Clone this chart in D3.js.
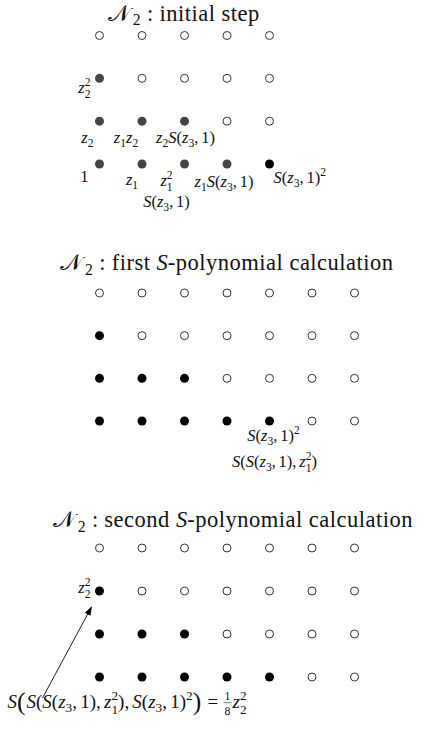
<!DOCTYPE html>
<html>
<head>
<meta charset="utf-8">
<script src="https://cdn.jsdelivr.net/npm/d3@7"></script>
<style>
  body { margin: 0; background: #fff; }
  svg text { white-space: pre; }
</style>
</head>
<body>
<div id="chart"></div>
<script>
// grid sizes (columns x rows) of each panel
var panelCols = [5, 7, 7];
var panelRows = [4, 4, 4];

// panel titles, written in a tiny TeX-like markup
var panelTitles = [
    "$\\N_2:$ initial step",
    "$\\N_2:$ first $S$-polynomial calculation",
    "$\\N_2:$ second $S$-polynomial calculation"
];

// filled lattice points [column, row]
var panel1Filled = [[0, 0], [1, 0], [2, 0], [3, 0], [0, 1], [1, 1], [2, 1], [0, 2]];
var panel1New = [[4, 0]];
var panel2Filled = [[0, 0], [1, 0], [2, 0], [3, 0], [4, 0], [0, 1], [1, 1], [2, 1], [0, 2]];
var panel3Filled = [[0, 0], [1, 0], [2, 0], [3, 0], [4, 0], [0, 1], [1, 1], [2, 1], [0, 2]];

// labels of points
var panel1Labels = [
    { cell: [0, 2], tex: "$z_2^2$" },
    { cell: [0, 1], tex: "$z_2$" },
    { cell: [1, 1], tex: "$z_1z_2$" },
    { cell: [2, 1], tex: "$z_2S(z_3,1)$" },
    { cell: [0, 0], tex: "$1$" },
    { cell: [1, 0], tex: "$z_1$" },
    { cell: [2, 0], tex: "$z_1^2$" },
    { cell: [3, 0], tex: "$z_1S(z_3,1)$" },
    { cell: [4, 0], tex: "$S(z_3,1)^2$" },
    { cell: [2, 0], tex: "$S(z_3,1)$" }
];
var panel2Labels = [
    { cell: [4, 0], tex: "$S(z_3,1)^2$" },
    { cell: [4, 0], tex: "$S(S(z_3,1),z_1^2)$" }
];
var panel3Labels = [
    { cell: [0, 2], tex: "$z_2^2$" }
];
var panel3Result = "$S\\bigl(S(S(z_3,1),z_1^2),S(z_3,1)^2\\bigr)=\\frac18z_2^2$";

// ---- layout ----
var svgWidth = 427, svgHeight = 733;
var fontFamily = "'Liberation Serif', 'DejaVu Serif', serif";
var titleSize = 22.5;
var titleSpacing = 0.5;
var labelSize = 16.5;
var resultSize = 19;

var svg = d3.select("#chart").append("svg")
    .attr("width", svgWidth)
    .attr("height", svgHeight)
    .style("background", "#fff");

var x = d3.scaleLinear().domain([0, 6]).range([99.5, 354.5]);
var yScales = [
    d3.scaleLinear().domain([0, 3]).range([164, 35.5]),
    d3.scaleLinear().domain([0, 3]).range([421, 293]),
    d3.scaleLinear().domain([0, 3]).range([677, 548])
];
var titleY = [20.5, 270, 527];
var titleX = [184, 227, 233];

// parse the TeX-like markup into a list of pieces
function parseTex(src) {
    var items = [], math = false, i = 0;
    while (i < src.length) {
        var c = src[i];
        if (c === "$") { math = !math; i++; continue; }
        if (c === "\\") {
            var j = i + 1;
            while (j < src.length && /[a-zA-Z]/.test(src[j])) j++;
            var cmd = src.slice(i + 1, j);
            i = j;
            if (cmd === "N") items.push({ t: "\u{1D4A9}", math: true, cal: true });
            else if (cmd === "bigl" || cmd === "bigr") { items.push({ t: src[i], big: true, math: true }); i++; }
            else if (cmd === "frac") { items.push({ frac: [src[i], src[i + 1]], math: true }); i += 2; }
            continue;
        }
        if (c === "_" || c === "^") {
            var grp;
            if (src[i + 1] === "{") {
                var k = src.indexOf("}", i);
                grp = src.slice(i + 2, k);
                i = k + 1;
            } else { grp = src[i + 1]; i += 2; }
            items[items.length - 1][c === "_" ? "sub" : "sup"] = grp;
            continue;
        }
        if (math) {
            if (c !== " ") {
                items.push({
                    t: c,
                    math: true,
                    italic: /[a-zA-Z]/.test(c),
                    space: c === "," ? "thin" : (c === "=" || c === ":") ? "rel" : null
                });
            }
            i++;
        } else {
            var e = i;
            while (e < src.length && src[e] !== "$") e++;
            items.push({ t: src.slice(i, e) });
            i = e;
        }
    }
    return items;
}

function addText(g, str, px, py, size, italic, spacing) {
    var t = g.append("text")
        .attr("x", px)
        .attr("y", py)
        .attr("font-family", fontFamily)
        .attr("font-size", size)
        .attr("font-style", italic ? "italic" : "normal")
        .attr("letter-spacing", spacing || 0)
        .attr("fill", "#111")
        .text(str);
    return t.node().getComputedTextLength();
}

// draw a markup string; anchor: start | middle | end
function drawTex(parent, src, px, py, size, anchor, spacing) {
    var g = parent.append("g");
    var items = parseTex(src);
    var cx = 0;
    var rel = size * 0.28, thin = size * 0.17;
    items.forEach(function (it, idx) {
        var next = items[idx + 1];
        if (it.space === "rel") cx += rel;
        if (it.frac) {
            var fs = size * 0.62;
            var wn = addText(g, it.frac[0], cx + 1, -size * 0.42, fs, false);
            var wd = addText(g, it.frac[1], cx + 1, size * 0.38, fs, false);
            var w = Math.max(wn, wd) + 2;
            g.append("line")
                .attr("x1", cx).attr("x2", cx + w)
                .attr("y1", -size * 0.28).attr("y2", -size * 0.28)
                .attr("stroke", "#111").attr("stroke-width", 0.6);
            cx += w + 1;
            return;
        }
        var bs = it.big ? size * 1.35 : size;
        var by = it.big ? size * 0.12 : 0;
        cx += addText(g, it.t, cx, by, bs, it.italic, it.math ? 0 : spacing);
        if (it.big) cx += size * 0.05;
        if (it.cal) cx += size * 0.12;
        var ss = size * 0.7, sw = 0;
        var both = it.sub && it.sup;
        if (it.sub) sw = addText(g, it.sub, cx, size * (both ? 0.3 : 0.22), ss, false);
        if (it.sup) sw = Math.max(sw, addText(g, it.sup, cx, -size * (both ? 0.42 : 0.4), ss, false));
        cx += sw;
        if (it.space === "rel" && next && next.math) cx += rel;
        if (it.space === "thin") cx += thin;
    });
    var shift = anchor === "end" ? -cx : anchor === "middle" ? -cx / 2 : 0;
    g.attr("transform", "translate(" + (px + shift) + "," + py + ")");
    return g;
}

// lattice of one panel
function drawGrid(p, filled, fillColor, extra) {
    var y = yScales[p];
    var pts = [];
    d3.range(panelRows[p]).forEach(function (r) {
        d3.range(panelCols[p]).forEach(function (c) { pts.push([c, r]); });
    });
    var key = function (d) { return d[0] + "," + d[1]; };
    var filledSet = new Set(filled.map(key));
    var extraSet = new Set((extra || []).map(key));
    var isOn = function (d) { return filledSet.has(key(d)) || extraSet.has(key(d)); };

    var g = svg.append("g").attr("class", "panel" + (p + 1));
    g.selectAll("circle")
        .data(pts)
        .enter()
        .append("circle")
        .attr("cx", function (d) { return x(d[0]); })
        .attr("cy", function (d) { return y(d[1]); })
        .attr("r", function (d) { return isOn(d) ? 4.5 : 4; })
        .attr("fill", function (d) {
            if (extraSet.has(key(d))) return "#000";
            return filledSet.has(key(d)) ? fillColor : "#fff";
        })
        .attr("stroke", function (d) { return isOn(d) ? "none" : "#333"; })
        .attr("stroke-width", 1);
    return g;
}

// titles
panelTitles.forEach(function (t, p) {
    drawTex(svg, t, titleX[p], titleY[p], titleSize, "middle", titleSpacing);
});

// panel 1
var g1 = drawGrid(0, panel1Filled, "#444", panel1New);
var place1 = [
    ["end", -9, 15], ["end", -6, 22], ["middle", -16, 22], ["middle", 1, 22],
    ["end", -11, 18], ["middle", -10, 21], ["middle", -18, 22], ["middle", -3, 23],
    ["start", 4, 19], ["middle", -18, 43]
];
panel1Labels.forEach(function (l, i) {
    var pl = place1[i];
    drawTex(g1, l.tex, x(l.cell[0]) + pl[1], yScales[0](l.cell[1]) + pl[2], labelSize, pl[0]);
});

// panel 2
var g2 = drawGrid(1, panel2Filled, "#000");
var place2 = [["middle", 4, 20], ["middle", 5, 46]];
panel2Labels.forEach(function (l, i) {
    var pl = place2[i];
    drawTex(g2, l.tex, x(l.cell[0]) + pl[1], yScales[1](l.cell[1]) + pl[2], labelSize, pl[0]);
});

// panel 3
var g3 = drawGrid(2, panel3Filled, "#000");
var place3 = [["end", -9, 2]];
panel3Labels.forEach(function (l, i) {
    var pl = place3[i];
    drawTex(g3, l.tex, x(l.cell[0]) + pl[1], yScales[2](l.cell[1]) + pl[2], labelSize, pl[0]);
});
drawTex(g3, panel3Result, x(0) - 92, yScales[2](0) + 31, resultSize, "start");

// arrow from the result to z2^2
svg.append("defs").append("marker")
    .attr("id", "arrowhead")
    .attr("viewBox", "0 0 10 10")
    .attr("refX", 9).attr("refY", 5)
    .attr("markerWidth", 9).attr("markerHeight", 9)
    .attr("markerUnits", "userSpaceOnUse")
    .attr("orient", "auto")
    .append("path")
    .attr("d", "M0,1.5L10,5L0,8.5Z")
    .attr("fill", "#000");

g3.append("line")
    .attr("x1", x(0) - 57).attr("y1", yScales[2](0) + 21)
    .attr("x2", x(0) - 8).attr("y2", yScales[2](2) + 16)
    .attr("stroke", "#000")
    .attr("stroke-width", 0.9)
    .attr("marker-end", "url(#arrowhead)");
</script>
</body>
</html>
